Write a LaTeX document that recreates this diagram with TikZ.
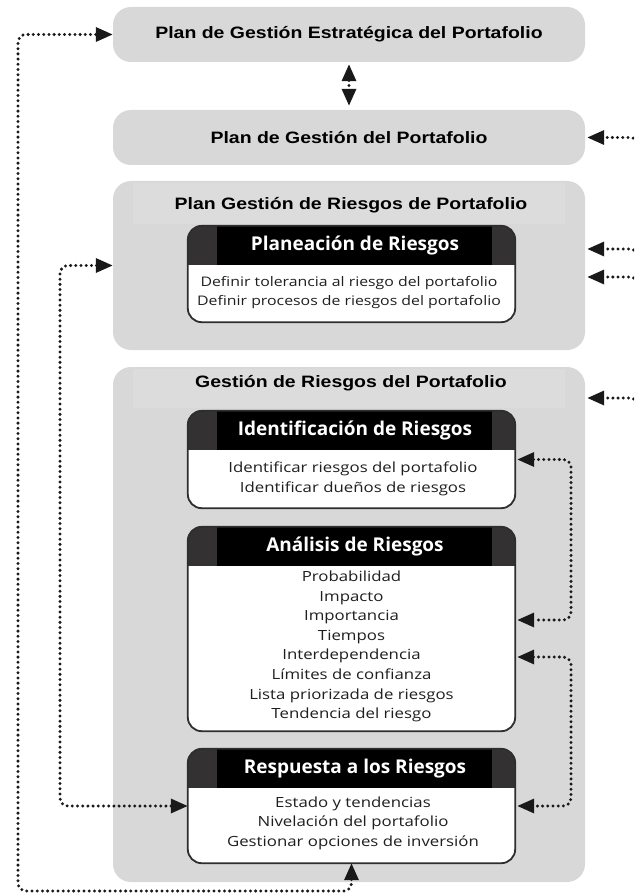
\documentclass[tikz,border=0pt]{standalone}
\usepackage{fontspec}
\usetikzlibrary{arrows.meta}
\newfontfamily\titlefont[FakeStretch=1.18]{Liberation Sans}
\newfontfamily\bodyfont[FakeStretch=1.2]{Open Sans}
\newfontfamily\headfont{Open Sans}
\definecolor{panel}{HTML}{D8D8D9}
\definecolor{band}{HTML}{DCDCDC}
\definecolor{headdark}{HTML}{333132}
\definecolor{rim}{HTML}{2E2E2E}

% one white process box with its dark heading strip
\newcommand\riskpanel[4]{% #1 name, #2 centre y, #3 height, #4 heading
  \node[riskbox, minimum height=#3pt] (#1) at (351.5,#2) {};
  \begin{scope}
    \clip[rounded corners=14pt] (#1.south west) rectangle (#1.north east);
    \fill[headdark] (#1.north west) rectangle ([yshift=-39pt]#1.north east);
  \end{scope}
  \fill[black] ([xshift=29pt]#1.north west) rectangle ([xshift=-23pt,yshift=-39pt]#1.north east);
  \draw[rim, line width=1.8pt, rounded corners=14pt] (#1.south west) rectangle (#1.north east);
  \node[headtitle] (#1-head) at ([xshift=3.5pt,yshift=-19.5pt]#1.north) {#4};
}

\begin{document}
\begin{tikzpicture}[x=1pt,y=-1pt,
  panelbox/.style={fill=panel, rounded corners=18pt, minimum width=472pt, inner sep=0pt, draw=none},
  paneltitle/.style={font=\titlefont\bfseries\fontsize{16.5}{19}\selectfont, text=black, inner sep=0pt},
  riskbox/.style={fill=white, rounded corners=14pt, minimum width=327pt, inner sep=0pt},
  headtitle/.style={font=\headfont\bfseries\fontsize{19}{22}\selectfont, text=white, inner sep=0pt},
  itemtext/.style={font=\bodyfont\fontsize{14}{19.6}\selectfont, align=center, inner sep=0pt, text=black!88},
  flow/.style={line width=3.3pt, dash pattern=on 0pt off 5.2pt, line cap=round, rounded corners=8pt, draw=black!90},
  tip/.tip={Triangle[length=17pt,width=14pt]}
]
\useasboundingbox (0,0) rectangle (634,896);
\clip (0,0) rectangle (634,896);
\fill[white] (0,0) rectangle (634,896);

% grey panels
\node[panelbox, minimum height=55pt] (strat) at (349,34.5)
  {\titlefont\bfseries\fontsize{16.5}{19}\selectfont Plan de Gestión Estratégica del Portafolio};
\node[panelbox, minimum height=55pt] (plan) at (349,137.5)
  {\titlefont\bfseries\fontsize{16.5}{19}\selectfont Plan de Gestión del Portafolio};
\node[panelbox, minimum height=169pt] (riskplan) at (349,265.5) {};
\node[panelbox, minimum height=515pt] (riskmgmt) at (349,624.5) {};

% title bands
\fill[band] (133,183) rectangle (565,224);
\fill[band] (133,369) rectangle (565,408);
\node[paneltitle] (riskplan-title) at (351,205) {Plan Gestión de Riesgos de Portafolio};
\node[paneltitle] (riskmgmt-title) at (351,383) {Gestión de Riesgos del Portafolio};

% process boxes
\riskpanel{planning}{274}{96}{Planeación de Riesgos}
\node[itemtext, font=\bodyfont\fontsize{13.2}{19}\selectfont] (planning-items) at (349,292.5)
  {Definir tolerancia al riesgo del portafolio\\Definir procesos de riesgos del portafolio};

\riskpanel{ident}{459.5}{97}{Identificación de Riesgos}
\node[itemtext] (ident-items) at (353,479)
  {Identificar riesgos del portafolio\\Identificar dueños de riesgos};

\riskpanel{analysis}{629}{204}{Análisis de Riesgos}
\node[itemtext] (analysis-items) at (351.5,646.5)
  {Probabilidad\\Impacto\\Importancia\\Tiempos\\Interdependencia\\Límites de confianza\\Lista priorizada de riesgos\\Tendencia del riesgo};

\riskpanel{response}{806}{114}{Respuesta a los Riesgos}
\node[itemtext] (response-items) at (353,823)
  {Estado y tendencias\\Nivelación del portafolio\\Gestionar opciones de inversión};

% bend points of the dotted loops
\coordinate (outerTop) at (18,34.5);
\coordinate (outerBottom) at (18,891);
\coordinate (outerRight) at (351.5,891);
\coordinate (innerTop) at (60,265.5);
\coordinate (innerBottom) at (60,806);
\coordinate (rightA1) at (571,459.5);
\coordinate (rightA2) at (571,620);
\coordinate (rightB1) at (571,657);
\coordinate (rightB2) at (571,806);

% dotted connectors
\draw[flow, tip-tip, shorten <=2pt, shorten >=4pt] (strat.south) -- (plan.north);
\draw[flow, tip-tip] (response.south) -- (outerRight) -- (outerBottom) -- (outerTop) -- (strat.west);
\draw[flow, tip-tip] (riskplan.west) -- (innerTop) -- (innerBottom) -- (response.west);
\draw[flow, tip-tip, shorten <=2pt, shorten >=2pt] (ident.east) -- (rightA1) -- (rightA2) -- (analysis.east |- rightA2);
\draw[flow, tip-tip, shorten <=2pt, shorten >=2pt] (analysis.east |- rightB1) -- (rightB1) -- (rightB2) -- (response.east);

% connectors entering from the right
\coordinate (inA) at (638,157);
\coordinate (inB) at (638,269);
\coordinate (inC) at (638,297);
\coordinate (inD) at (638,418);
\draw[flow, -tip, shorten >=2pt] (inA) -- (inA |- plan.east) -- (plan.east);
\draw[flow, -tip, shorten >=2pt] (inB) -- (638,249) -- (riskplan.east |- 0,249);
\draw[flow, -tip, shorten >=2pt] (inC) -- (638,277) -- (riskplan.east |- 0,277);
\draw[flow, -tip, shorten >=2pt] (inD) -- (638,398) -- (riskmgmt.east |- 0,398);
\end{tikzpicture}
\end{document}
